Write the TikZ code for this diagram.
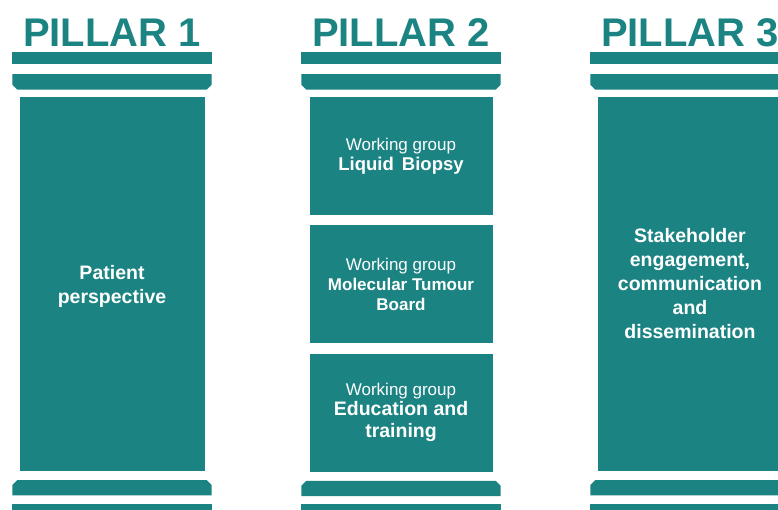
\documentclass[tikz,border=0pt]{standalone}
\usepackage{fontspec}
\setmainfont{Liberation Sans}
\usetikzlibrary{positioning}
\definecolor{pillarteal}{RGB}{27,131,130}
\tikzset{
  bar/.style={fill=pillarteal, inner sep=0pt, minimum width=200pt, minimum height=12pt},
  slab/.style={inner sep=0pt, minimum width=199pt, minimum height=15pt},
  shaft/.style={fill=pillarteal, text=white, inner sep=0pt, minimum width=185pt,
    minimum height=374pt, align=center, font=\fontsize{19.5}{24}\selectfont\bfseries},
  group/.style={shaft, minimum width=183pt, minimum height=118pt,
    font=\fontsize{17}{20}\selectfont},
  title/.style={text=pillarteal, inner sep=0pt, font=\fontsize{40}{40}\selectfont\bfseries}
}
\newcommand{\gname}[2][18.5]{{\fontsize{#1}{20}\selectfont\bfseries #2}}

\begin{document}
\begin{tikzpicture}[x=1pt, y=-1pt]
  \clip (0,0) rectangle (778,510);

  % Pillar 1
  \node[bar]                        (top1)   at (112,58) {};
  \node[title, above=5pt of top1]   (title1) {PILLAR 1};
  \node[slab, below=10pt of top1]   (cap1)   {};
  \node[shaft, below=7pt of cap1]   (shaft1) {\\[-5pt]Patient\\perspective};
  \node[slab, below=9pt of shaft1]  (base1)  {};
  \node[bar, below=8pt of base1]    (foot1)  {};

  % Pillar 2
  \node[bar]                        (top2)   at (401,58) {};
  \node[title, above=5pt of top2]   (title2) {PILLAR 2};
  \node[slab, below=10pt of top2]   (cap2)   {};
  \node[group, below=7pt of cap2]   (wg1) {Working group\\\gname{Liquid\hspace{3pt} Biopsy}};
  \node[group, below=10pt of wg1]   (wg2) {Working group\\\gname[17]{Molecular Tumour}\\\gname[17]{Board}};
  \node[group, below=10pt of wg2]   (wg3) {Working group\\\gname[19.5]{Education and}\\[1.5pt]\gname[19.5]{training}};
  \node[slab, below=9pt of wg3]     (base2)  {};
  \node[bar, below=8pt of base2]    (foot2)  {};

  % Pillar 3
  \node[bar]                        (top3)   at (690,58) {};
  \node[title, above=5pt of top3]   (title3) {PILLAR 3};
  \node[slab, below=10pt of top3]   (cap3)   {};
  \node[shaft, below=7pt of cap3]   (shaft3) {Stakeholder\\engagement,\\communication\\and\\dissemination};
  \node[slab, below=9pt of shaft3]  (base3)  {};
  \node[bar, below=8pt of base3]    (foot3)  {};

  % chamfered capitals and bases
  \foreach \p in {1,2,3} {
    \fill[pillarteal] (cap\p.north west) -- (cap\p.north east)
      -- ([yshift=5pt]cap\p.south east) -- ([xshift=-5pt]cap\p.south east)
      -- ([xshift=5pt]cap\p.south west) -- ([yshift=5pt]cap\p.south west) -- cycle;
    \fill[pillarteal] (base\p.south west) -- (base\p.south east)
      -- ([yshift=-5pt]base\p.north east) -- ([xshift=-5pt]base\p.north east)
      -- ([xshift=5pt]base\p.north west) -- ([yshift=-5pt]base\p.north west) -- cycle;
  }

\end{tikzpicture}
\end{document}
